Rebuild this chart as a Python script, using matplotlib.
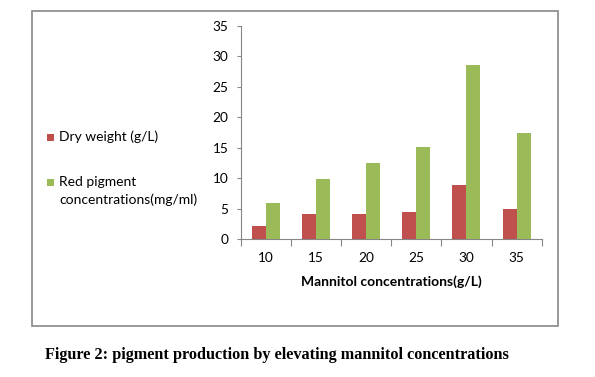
import matplotlib
matplotlib.use("Agg")
import matplotlib.pyplot as plt
from matplotlib.patches import Rectangle
import numpy as np

categories = ["10", "15", "20", "25", "30", "35"]
dry_weight = [2.2, 4.2, 4.2, 4.5, 8.9, 5.0]
red_pigment = [6.0, 9.9, 12.5, 15.2, 28.6, 17.5]
yticks = [0, 5, 10, 15, 20, 25, 30, 35]
series_labels = ["Dry weight (g/L)", "Red pigment\nconcentrations(mg/ml)"]
series_colors = ["#C0504D", "#9BBB59"]

plt.rcParams['font.family'] = ['Lato', 'DejaVu Sans']

W, H = 595, 377
fig = plt.figure(figsize=(W / 100, H / 100), dpi=100)
ax = fig.add_axes([240.7 / W, 1 - 239.3 / H, (541.7 - 240.7) / W, (239.3 - 26) / H])

axis_col = "#868686"
x = np.arange(len(categories))
bw = 0.28
ax.bar(x - bw / 2, dry_weight, bw, color=series_colors[0])
ax.bar(x + bw / 2, red_pigment, bw, color=series_colors[1])

ax.set_xlim(-0.5, len(categories) - 0.5)
ax.set_ylim(0, 35)
ax.set_yticks(yticks)
ax.set_yticklabels([str(t) for t in yticks], fontsize=9.8)
ax.set_xticks(x)
ax.set_xticklabels(categories, fontsize=9.8)
ax.set_xticks(np.arange(len(categories) + 1) - 0.5, minor=True)
ax.tick_params(axis='x', which='major', length=0, pad=9)
ax.tick_params(axis='x', which='minor', length=5, color=axis_col, width=0.8)
ax.tick_params(axis='y', length=3, color=axis_col, width=0.8, pad=6)
for s in ["top", "right"]:
    ax.spines[s].set_visible(False)
for s in ["left", "bottom"]:
    ax.spines[s].set_color(axis_col)
    ax.spines[s].set_linewidth(0.8)

ax.set_xlabel("Mannitol concentrations(g/L)", fontsize=10, fontweight="bold", labelpad=8)

# legend drawn manually (Excel-style: marker aligned with first line)
entry_y = [137, 182]
line_gap = 18
for lab, col, yy in zip(series_labels, series_colors, entry_y):
    fig.patches.append(Rectangle((47 / W, 1 - (yy + 3.5) / H), 7 / W, 7 / H,
                                 transform=fig.transFigure, facecolor=col, edgecolor="none"))
    for i, line in enumerate(lab.split("\n")):
        fig.text(59 / W, 1 - (yy + i * line_gap) / H, line, fontsize=10,
                 ha="left", va="center")

fig.patches.append(Rectangle((31.5 / W, 1 - 326 / H), (558 - 31.5) / W, (326 - 10.5) / H,
                             transform=fig.transFigure, fill=False, edgecolor="#878787",
                             linewidth=1.2))

fig.text(276.5 / W, 1 - 355 / H, "Figure 2: pigment production by elevating mannitol concentrations",
         ha="center", va="center", fontsize=11.7, fontweight="bold",
         family=["Liberation Serif", "DejaVu Serif"])

fig.savefig("out.png", dpi=100)
